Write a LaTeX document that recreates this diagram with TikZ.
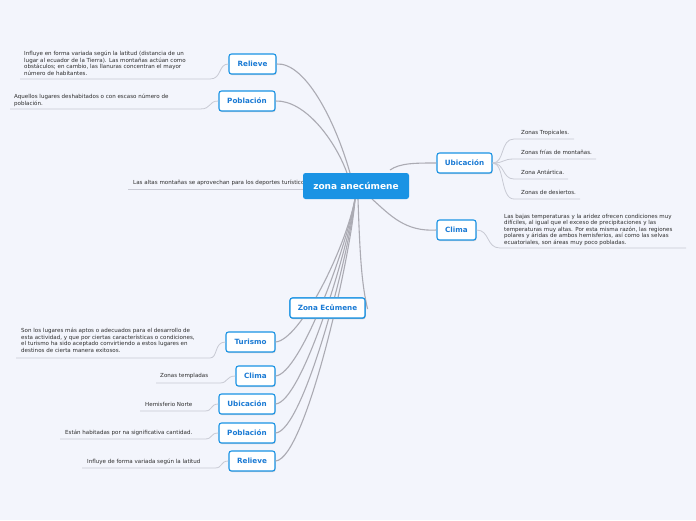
\documentclass[tikz,border=0pt]{standalone}
\usepackage{fontspec}
\setmainfont{DejaVu Sans}
\usetikzlibrary{shadows}
\definecolor{bg}{HTML}{F3F5FC}
\definecolor{nodeblue}{HTML}{1A93E4}
\definecolor{txtblue}{HTML}{1A7AD4}
\definecolor{trunk}{HTML}{ABABB3}
\definecolor{leafline}{HTML}{C8CAD4}
\definecolor{leaftxt}{HTML}{2E2E2E}
\tikzset{
  topic/.style={draw=nodeblue, line width=1.1pt, fill=white, rounded corners=2.5pt,
    minimum height=20pt, inner sep=0pt, font=\fontsize{7.2}{8}\selectfont\bfseries, text=txtblue,
    drop shadow={opacity=0.3, shadow xshift=0.6pt, shadow yshift=-1.2pt}},
  central/.style={fill=nodeblue, rounded corners=2.5pt, minimum height=26pt, minimum width=106pt,
    inner sep=0pt, font=\fontsize{9}{10}\selectfont\bfseries, text=white},
  leaf/.style={anchor=north west, inner sep=0pt, align=left, text=leaftxt,
    font=\fontsize{5.55}{6.5}\selectfont},
  trunkline/.style={draw=trunk, line width=1.1pt},
  leafl/.style={draw=leafline, line width=0.8pt},
}
\begin{document}
\begin{tikzpicture}[x=1pt,y=-1pt]
\fill[bg] (0,0) rectangle (696,520);
\useasboundingbox (0,0) rectangle (696,520);

% leaf texts
\node[leaf] (t1) at (24,51) {Influye en forma variada según la latitud (distancia de un\\lugar al ecuador de la Tierra). Las montañas actúan como\\obstáculos; en cambio, las llanuras concentran el mayor\\número de habitantes.};
\node[leaf] (t2) at (14,94) {Aquellos lugares deshabitados o con escaso número de\\población.};
\node[leaf] (t3) at (133,180) {Las altas montañas se aprovechan para los deportes turísticos};
\node[leaf] (u1) at (521,130) {Zonas Tropicales.};
\node[leaf] (u2) at (521,150) {Zonas frías de montañas.};
\node[leaf] (u3) at (521,170) {Zona Antártica.};
\node[leaf] (u4) at (521,190) {Zonas de desiertos.};
\node[leaf] (c1) at (504,214) {Las bajas temperaturas y la aridez ofrecen condiciones muy\\difíciles, al igual que el exceso de precipitaciones y las\\temperaturas muy altas. Por esta misma razón, las regiones\\polares y áridas de ambos hemisferios, así como las selvas\\ecuatoriales, son áreas muy poco pobladas.};
\node[leaf] (b1) at (21,328) {Son los lugares más aptos o adecuados para el desarrollo de\\esta actividad, y que por ciertas características o condiciones,\\el turismo ha sido aceptado convirtiendo a estos lugares en\\destinos de cierta manera exitosos.};
\node[leaf] (b2) at (160,373) {Zonas templadas};
\node[leaf] (b3) at (145,402) {Hemisferio Norte};
\node[leaf] (b4) at (65,430) {Están habitadas por na significativa cantidad.};
\node[leaf] (b5) at (87,459) {Influye de forma variada según la latitud};

% underline coordinates
\coordinate (l1a) at (20,79);  \coordinate (l1b) at (210,79);
\coordinate (l2a) at (10,109); \coordinate (l2b) at (200,109);
\coordinate (l3a) at (128,189); \coordinate (l3b) at (305,189);
\coordinate (m1a) at (514,139); \coordinate (m1b) at (574,139);
\coordinate (m2a) at (514,159); \coordinate (m2b) at (596,159);
\coordinate (m3a) at (514,179); \coordinate (m3b) at (568,179);
\coordinate (m4a) at (514,199); \coordinate (m4b) at (580,199);
\coordinate (k1a) at (500,248); \coordinate (k1b) at (686,248);
\coordinate (n1a) at (16,358); \coordinate (n1b) at (210,358);
\coordinate (n2a) at (156,383); \coordinate (n2b) at (220,383);
\coordinate (n3a) at (140,411); \coordinate (n3b) at (205,411);
\coordinate (n4a) at (60,439); \coordinate (n4b) at (205,439);
\coordinate (n5a) at (82,468); \coordinate (n5b) at (215,468);

% topic nodes
\node[topic, minimum width=47pt] (relA) at (252.5,64) {Relieve};
\node[topic, minimum width=56pt] (pobA) at (247,101) {Población};
\node[topic, minimum width=55pt] (ubiA) at (464.5,163) {Ubicación};
\node[topic, minimum width=39pt] (cliA) at (456.5,230) {Clima};
\node[topic, minimum width=75pt] (eco) at (327.5,308) {Zona Ecûmene};
\node[topic, minimum width=49pt] (tur) at (250.5,342) {Turismo};
\node[topic, minimum width=39pt] (cliB) at (255.5,376) {Clima};
\node[topic, minimum width=56pt] (ubiB) at (247,404) {Ubicación};
\node[topic, minimum width=56pt] (pobB) at (247,433) {Población};
\node[topic, minimum width=46pt] (relB) at (252,461) {Relieve};

% leaf connectors
\draw[leafl] (relA.west) .. controls (218,64) and (222,79) .. (l1b) -- (l1a);
\draw[leafl] (pobA.west) .. controls (208,101) and (212,109) .. (l2b) -- (l2a);
\draw[leafl] (l3b) -- (l3a);
\draw[leafl] (ubiA.east) .. controls (505,163) and (500,139) .. (m1a) -- (m1b);
\draw[leafl] (ubiA.east) .. controls (505,163) and (502,159) .. (m2a) -- (m2b);
\draw[leafl] (ubiA.east) .. controls (505,163) and (502,179) .. (m3a) -- (m3b);
\draw[leafl] (ubiA.east) .. controls (505,163) and (500,199) .. (m4a) -- (m4b);
\draw[leafl] (cliA.east) .. controls (490,230) and (486,248) .. (k1a) -- (k1b);
\draw[leafl] (tur.west) .. controls (214,342) and (218,358) .. (n1b) -- (n1a);
\draw[leafl] (cliB.west) .. controls (226,376) and (228,383) .. (n2b) -- (n2a);
\draw[leafl] (ubiB.west) .. controls (210,404) and (213,411) .. (n3b) -- (n3a);
\draw[leafl] (pobB.west) .. controls (210,433) and (213,439) .. (n4b) -- (n4a);
\draw[leafl] (relB.west) .. controls (220,461) and (223,468) .. (n5b) -- (n5a);

% central node anchors
\coordinate (cT1) at (350,173);
\coordinate (cT2) at (347,173);
\coordinate (cR1) at (390,170);
\coordinate (cR2) at (372,199);
\coordinate (cB) at (355,199);
\coordinate (cB2) at (358,199);

% trunk connectors
\draw[trunkline] (relA.east) .. controls (305,62) and (335,120) .. (cT1);
\draw[trunkline] (pobA.east) .. controls (305,100) and (335,140) .. (cT2);
\draw[trunkline] (ubiA.west) .. controls (415,163) and (400,163) .. (cR1);
\draw[trunkline] (cliA.west) .. controls (405,232) and (390,215) .. (cR2);
\draw[trunkline] (cB2) .. controls (360,260) and (362,285) .. ([xshift=2pt,yshift=-1pt]eco.east);
\draw[trunkline] (tur.east) .. controls (300,340) and (345,250) .. (cB);
\draw[trunkline] (cliB.east) .. controls (300,374) and (346,250) .. (cB);
\draw[trunkline] (ubiB.east) .. controls (302,402) and (348,250) .. (cB);
\draw[trunkline] (pobB.east) .. controls (304,431) and (350,250) .. (cB);
\draw[trunkline] (relB.east) .. controls (306,459) and (352,250) .. (cB);

% central node and Zona Ecumene drawn on top
\node[central] (cen) at (356,186) {zona anecúmene};
\node[topic, minimum width=75pt] (eco2) at (eco) {Zona Ecûmene};
\end{tikzpicture}
\end{document}
